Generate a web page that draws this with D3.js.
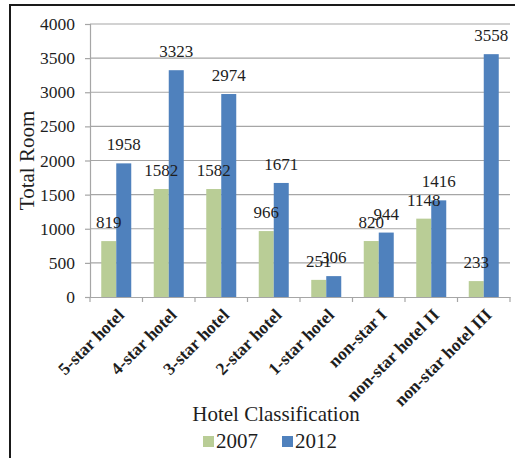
<!DOCTYPE html>
<html>
<head>
<meta charset="utf-8">
<script src="https://cdn.jsdelivr.net/npm/d3@7"></script>
<style>
  html, body { margin: 0; padding: 0; background: #fff; }
  svg { display: block; }
</style>
</head>
<body>
<svg id="chart" width="515" height="458"></svg>
<script>
const categories = ["5-star hotel", "4-star hotel", "3-star hotel", "2-star hotel", "1-star hotel", "non-star I", "non-star hotel II", "non-star hotel III"];
const values2007 = [819, 1582, 1582, 966, 251, 820, 1148, 233];
const values2012 = [1958, 3323, 2974, 1671, 306, 944, 1416, 3558];
const seriesNames = ["2007", "2012"];
const yTicks = [0, 500, 1000, 1500, 2000, 2500, 3000, 3500, 4000];
const colors = ["#B9CD96", "#4F81BD"];

(function () {
const svg = d3.select("#chart");
const serif = "Liberation Serif, Times New Roman, serif";
const textColor = "#1e1e1e";

// outer border (cropped at right and bottom)
svg.append("rect").attr("x", 10).attr("y", 5).attr("width", 600).attr("height", 600)
  .attr("fill", "none").attr("stroke", "#1a1a1a").attr("stroke-width", 2);

const pLeft = 90, pRight = 510, pTop = 24, pBottom = 297;
const x = d3.scaleBand().domain(categories).range([pLeft, pRight]).paddingInner(0).paddingOuter(0);
const xInner = d3.scaleBand().domain(seriesNames).range([0, 30]);
const y = d3.scaleLinear().domain([0, 4000]).range([pBottom, pTop]);

// gridlines
svg.append("g").selectAll("line").data(yTicks.filter(d => d > 0)).join("line")
  .attr("x1", pLeft).attr("x2", pRight)
  .attr("y1", d => y(d)).attr("y2", d => y(d))
  .attr("stroke", "#a6a6a6").attr("stroke-width", 1.2);

// y axis
const yAxis = svg.append("g").attr("transform", `translate(${pLeft},0)`)
  .call(d3.axisLeft(y).tickValues(yTicks).tickFormat(d3.format("d")).tickSize(5).tickPadding(10));
yAxis.attr("font-family", serif);
yAxis.select(".domain").attr("stroke", "#a6a6a6").attr("stroke-width", 1.2);
yAxis.selectAll(".tick line").attr("stroke", "#a6a6a6").attr("stroke-width", 1.2);
yAxis.selectAll(".tick text").attr("font-family", serif).attr("font-size", 17.5).attr("fill", textColor);

// bars
const groups = svg.append("g").selectAll("g").data(categories).join("g")
  .attr("transform", d => `translate(${x(d) + (x.bandwidth() - 30) / 2},0)`);
const seriesData = [values2007, values2012];
seriesNames.forEach((s, si) => {
  groups.append("rect")
    .attr("x", xInner(s))
    .attr("width", xInner.bandwidth())
    .attr("y", (d, i) => y(seriesData[si][i]))
    .attr("height", (d, i) => y(0) - y(seriesData[si][i]))
    .attr("fill", colors[si]);
});

// x axis
const xAxis = svg.append("g").attr("transform", `translate(0,${pBottom})`)
  .call(d3.axisBottom(x).tickSize(0).tickFormat(""));
xAxis.select(".domain").attr("stroke", "#a6a6a6").attr("stroke-width", 1.2);
const tickPositions = d3.range(categories.length + 1).map(i => pLeft + i * x.bandwidth());
svg.append("g").selectAll("line").data(tickPositions).join("line")
  .attr("x1", d => d).attr("x2", d => d).attr("y1", pBottom).attr("y2", pBottom + 5)
  .attr("stroke", "#a6a6a6").attr("stroke-width", 1.2);

// data labels
seriesNames.forEach((s, si) => {
  groups.append("text")
    .attr("x", xInner(s) + xInner.bandwidth() / 2)
    .attr("y", (d, i) => y(seriesData[si][i]) - 13)
    .attr("text-anchor", "middle")
    .attr("font-family", serif).attr("font-size", 17)
    .attr("fill", textColor)
    .text((d, i) => seriesData[si][i]);
});

// category labels, rotated
svg.append("g").selectAll("text").data(categories).join("text")
  .attr("transform", d => `translate(${x(d) + x.bandwidth() / 2 + 9},${pBottom + 19}) rotate(-45)`)
  .attr("text-anchor", "end")
  .attr("font-family", serif).attr("font-weight", "bold").attr("font-size", 17.5)
  .attr("fill", textColor)
  .text(d => d);

// axis titles
svg.append("text")
  .attr("transform", `translate(34,${(pTop + pBottom) / 2}) rotate(-90)`)
  .attr("text-anchor", "middle")
  .attr("font-family", serif).attr("font-size", 21).attr("fill", textColor)
  .text("Total Room");

svg.append("text")
  .attr("x", 276).attr("y", 421)
  .attr("text-anchor", "middle")
  .attr("font-family", serif).attr("font-size", 21).attr("fill", textColor)
  .text("Hotel Classification");

// legend
const legendX = [203, 282];
seriesNames.forEach((s, si) => {
  svg.append("rect").attr("x", legendX[si]).attr("y", 436).attr("width", 11).attr("height", 11)
    .attr("fill", colors[si]);
  svg.append("text").attr("x", legendX[si] + 13).attr("y", 448)
    .attr("font-family", serif).attr("font-size", 21).attr("fill", textColor)
    .text(s);
});
})();
</script>
</body>
</html>
